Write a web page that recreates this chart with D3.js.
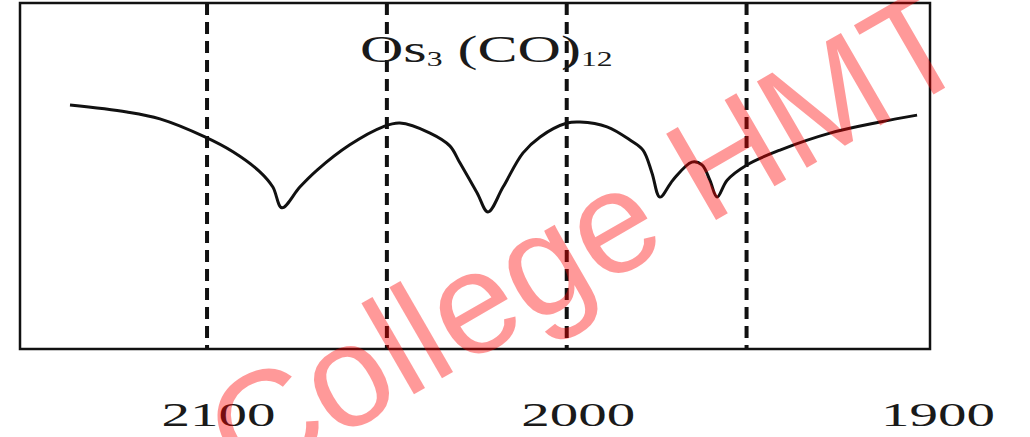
<!DOCTYPE html>
<html>
<head>
<meta charset="utf-8">
<script src="https://cdn.jsdelivr.net/npm/d3@7"></script>
<style>
  body { margin: 0; background: #fff; }
  svg { display: block; }
</style>
</head>
<body>
<div id="spectrum"></div>
<script>
// Spectrum trace: wavenumber (cm-1) and transmittance (%)
var wavenumbers = [2138.1, 2122.3, 2113.1, 2100.6, 2092.8, 2085.3, 2081.7, 2079.2, 2074.2, 2069.4,
                   2060.3, 2051.1, 2046.4, 2038.0, 2032.5, 2029.7, 2024.9, 2021.9, 2017.7, 2012.2,
                   2007.4, 1999.9, 1996.3, 1988.8, 1982.4, 1978.8, 1976.3, 1974.1, 1970.5, 1965.2,
                   1962.4, 1960.2, 1958.2, 1955.4, 1949.9, 1940.7, 1926.8, 1912.9, 1902.6];
var transmittance = [70.5, 68.5, 66.5, 61.3, 57.0, 51.2, 46.8, 40.8, 46.8, 51.7,
                     59.0, 64.2, 65.3, 62.4, 58.7, 53.8, 45.1, 39.6, 46.8, 56.6,
                     61.3, 65.3, 65.6, 64.2, 60.4, 57.5, 50.9, 43.9, 48.8, 54.0,
                     53.2, 48.8, 43.9, 48.8, 53.2, 57.5, 62.4, 65.6, 67.6];

var tickValues = [2100, 2000, 1900];
var markerLines = [2100, 2050, 2000, 1950];
var xDomain = [2152, 1899];
var yDomain = [0, 100];

var width = 1030, height = 437;

var svg = d3.select("#spectrum").append("svg")
    .attr("width", width)
    .attr("height", height);

// Scales
var x = d3.scaleLinear().domain(xDomain).range([20, 930]);
var y = d3.scaleLinear().domain(yDomain).range([349, 3]);

// Dashed marker lines
svg.selectAll(".marker")
    .data(markerLines)
  .enter().append("line")
    .attr("class", "marker")
    .attr("x1", function(d) { return x(d); })
    .attr("x2", function(d) { return x(d); })
    .attr("y1", y(100))
    .attr("y2", y(0))
    .attr("stroke", "#111")
    .attr("stroke-width", 4)
    .attr("stroke-dasharray", "12,7");

// Frame
svg.append("rect")
    .attr("x", x(xDomain[0]))
    .attr("y", y(100))
    .attr("width", x(xDomain[1]) - x(xDomain[0]))
    .attr("height", y(0) - y(100))
    .attr("fill", "none")
    .attr("stroke", "#111")
    .attr("stroke-width", 2.5);

// Trace
var points = wavenumbers.map(function(d, i) { return [d, transmittance[i]]; });
var line = d3.line()
    .x(function(d) { return x(d[0]); })
    .y(function(d) { return y(d[1]); })
    .curve(d3.curveCatmullRom.alpha(0.5));

svg.append("path")
    .attr("d", line(points))
    .attr("fill", "none")
    .attr("stroke", "#111")
    .attr("stroke-width", 3)
    .attr("stroke-linejoin", "round");

// Axis labels (no ticks, no domain line)
var xAxis = d3.axisBottom(x)
    .tickValues(tickValues)
    .tickSize(0)
    .tickFormat(d3.format("d"));

var gx = svg.append("g")
    .attr("transform", "translate(0," + y(0) + ")")
    .call(xAxis);
gx.select(".domain").remove();
gx.selectAll("text")
    .attr("y", 77)
    .attr("dy", 0)
    .attr("dx", 11)
    .attr("fill", "#1a1a1a")
    .attr("font-family", "Liberation Serif, Times New Roman, serif")
    .attr("font-size", 34)
    .attr("textLength", 114)
    .attr("lengthAdjust", "spacingAndGlyphs");

// Title Os3(CO)12
var title = svg.append("text")
    .attr("transform", "translate(360,62) scale(1.58,1)")
    .attr("font-family", "Liberation Serif, Times New Roman, serif")
    .attr("font-size", 38)
    .attr("fill", "#1a1a1a");
title.append("tspan").text("Os");
title.append("tspan").attr("font-size", 20).attr("dy", 4).text("3");
title.append("tspan").attr("dy", -4).text(" (CO)");
title.append("tspan").attr("font-size", 20).attr("dy", 4).text("12");

// Watermark
svg.append("text")
    .attr("transform", "translate(245,492) rotate(-30)")
    .attr("font-family", "Liberation Sans, Arial, sans-serif")
    .attr("font-size", 145)
    .attr("fill", "#ff0000")
    .attr("fill-opacity", 0.4)
    .text("College HMT");
</script>
</body>
</html>
